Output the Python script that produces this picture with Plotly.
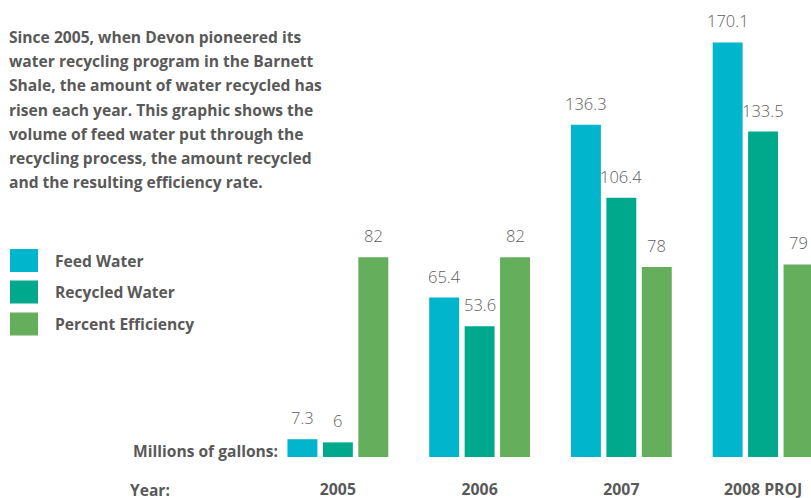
import plotly.graph_objects as go

# ---- data ----
years = ["2005", "2006", "2007", "2008 PROJ"]
feed_water = [7.3, 65.4, 136.3, 170.1]
recycled_water = [6, 53.6, 106.4, 133.5]
percent_eff = [82, 82, 78, 79]
feed_labels = ["7.3", "65.4", "136.3", "170.1"]
recycled_labels = ["6", "53.6", "106.4", "133.5"]
eff_labels = ["82", "82", "78", "79"]

series_names = ["Feed Water", "Recycled Water", "Percent Efficiency"]
colors = ["#00B5CC", "#00A98B", "#64AE5C"]

intro_lines = [
    "Since 2005, when Devon pioneered its",
    "water recycling program in the Barnett",
    "Shale, the amount of water recycled has",
    "risen each year. This graphic shows the",
    "volume of feed water put through the",
    "recycling process, the amount recycled",
    "and the resulting efficiency rate.",
]

W, H = 811, 498
ML, MR, MT, MB = 267, 0, 0, 41
PW, PH = W - ML - MR, H - MT - MB
TEXT = "#595959"
FONT = "Open Sans"
BOLD_SIZE = 15.6


def px(x):
    return (x - ML) / PW


def py(y):
    return (H - MB - y) / PH


fig = go.Figure()
for name, vals, col in zip(series_names, [feed_water, recycled_water, percent_eff], colors):
    fig.add_trace(go.Bar(x=years, y=vals, name=name, marker=dict(color=col, line=dict(width=0)),
                         showlegend=False, hoverinfo="skip"))

annotations = []
# value labels above bars (x given as category index)
for offset, vals, labs in zip([-35.5, 0, 35.5], [feed_water, recycled_water, percent_eff],
                              [feed_labels, recycled_labels, eff_labels]):
    for i, (v, lab) in enumerate(zip(vals, labs)):
        annotations.append(dict(x=i, y=v, xref="x", yref="y", text=lab, showarrow=False,
                                xshift=offset, yshift=8, yanchor="bottom", xanchor="center",
                                font=dict(family=FONT, size=16.5, color="#5e5e5e", weight=300)))

# intro text
for i, line in enumerate(intro_lines):
    annotations.append(dict(x=px(7), y=py(37 + i * 24.2), xref="paper", yref="paper", text="<b>" + line + "</b>",
                            showarrow=False, xanchor="left", yanchor="middle",
                            font=dict(family=FONT, size=BOLD_SIZE, color=TEXT)))

# legend (custom)
shapes = []
leg_y = [260.5, 292, 324]
for name, col, cy in zip(series_names, colors, leg_y):
    shapes.append(dict(type="rect", xref="paper", yref="paper", x0=px(10), x1=px(38),
                       y0=py(cy + 11.5), y1=py(cy - 11.5), fillcolor=col, line=dict(width=0)))
    annotations.append(dict(x=px(53), y=py(cy), xref="paper", yref="paper", text="<b>" + name + "</b>",
                            showarrow=False, xanchor="left", yanchor="middle",
                            font=dict(family=FONT, size=BOLD_SIZE, color=TEXT)))

annotations.append(dict(x=px(280), y=py(451), xref="paper", yref="paper", text="<b>Millions of gallons:</b>",
                        showarrow=False, xanchor="right", yanchor="middle",
                        font=dict(family=FONT, size=BOLD_SIZE, color=TEXT)))
annotations.append(dict(x=px(128), y=py(490), xref="paper", yref="paper", text="<b>Year:</b>",
                        showarrow=False, xanchor="left", yanchor="middle",
                        font=dict(family=FONT, size=BOLD_SIZE, color=TEXT)))

fig.update_layout(
    width=W, height=H,
    margin=dict(l=ML, r=MR, t=MT, b=MB, pad=0),
    paper_bgcolor="white", plot_bgcolor="white",
    barmode="group", bargap=0.25, bargroupgap=0.155,
    annotations=annotations, shapes=shapes,
    xaxis=dict(type="category", range=[-0.5, 3.338], showgrid=False, zeroline=False, showline=False,
               ticks="", tickvals=years, ticktext=["<b>" + y + "</b>" for y in years],
               tickfont=dict(family=FONT, size=15.8, color=TEXT), ticklabelstandoff=21, automargin=False),
    yaxis=dict(range=[0, 187.5], visible=False, fixedrange=True),
)

fig.write_html("out.html", config={"displayModeBar": False},
               post_script="document.body.style.margin='0';document.body.style.overflow='hidden';")
